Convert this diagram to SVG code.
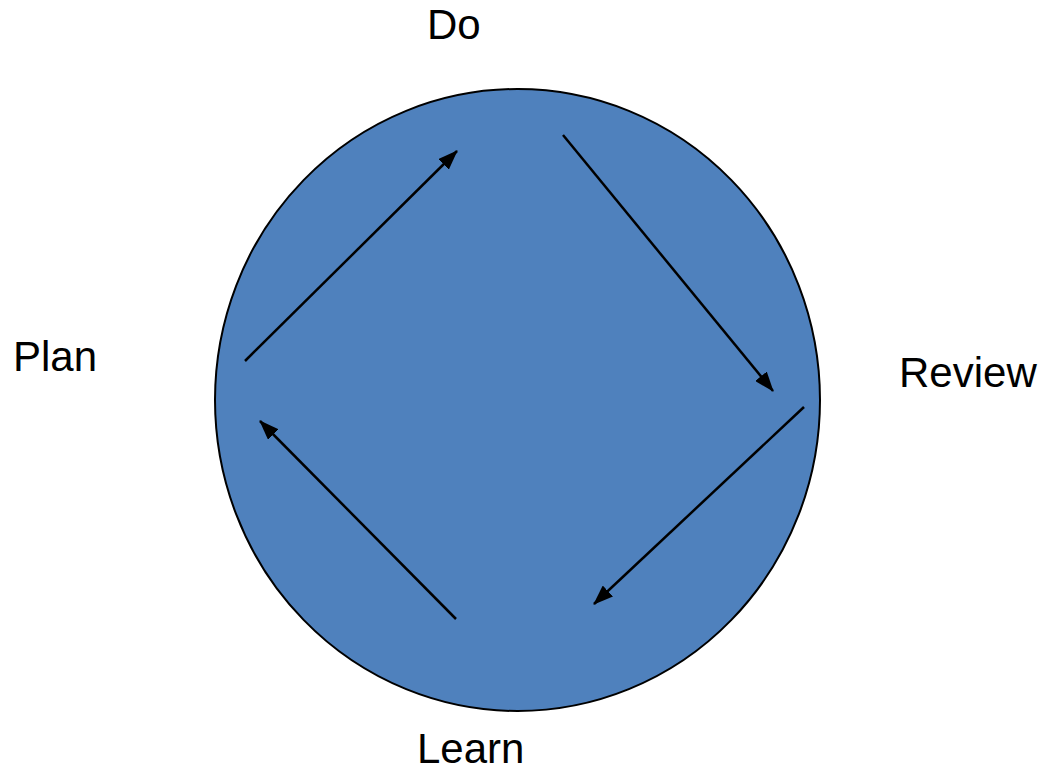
<svg xmlns="http://www.w3.org/2000/svg" width="1042" height="770" viewBox="0 0 1042 770">
<style>
.lbl{font-family:"Liberation Sans",Arial,sans-serif;font-size:42px;fill:#000}
</style>
<defs>
<marker id="ah2" viewBox="0 0 20 15" refX="19" refY="7.5" markerWidth="20" markerHeight="15" markerUnits="userSpaceOnUse" orient="auto">
<path d="M0,0 L20,7.5 L0,15 z" fill="#000"/>
</marker>
</defs>
<rect width="1042" height="770" fill="#fff"/>
<g id="cycle">
<ellipse cx="517.5" cy="400" rx="302.5" ry="311" fill="#4f81bd" stroke="#000" stroke-width="2"/>
</g>
<g id="connectors" stroke="#000" stroke-width="2.5" fill="none">
<line x1="245" y1="361" x2="457" y2="151" marker-end="url(#ah2)"/>
<line x1="563" y1="135" x2="773" y2="391" marker-end="url(#ah2)"/>
<line x1="804" y1="407" x2="594" y2="604" marker-end="url(#ah2)"/>
<line x1="456" y1="619" x2="260" y2="421" marker-end="url(#ah2)"/>
</g>
<g id="do"><text class="lbl" x="427" y="39">Do</text></g>
<g id="plan"><text class="lbl" x="13" y="371">Plan</text></g>
<g id="review"><text class="lbl" x="899" y="387">Review</text></g>
<g id="learn"><text class="lbl" x="417" y="763">Learn</text></g>
</svg>
